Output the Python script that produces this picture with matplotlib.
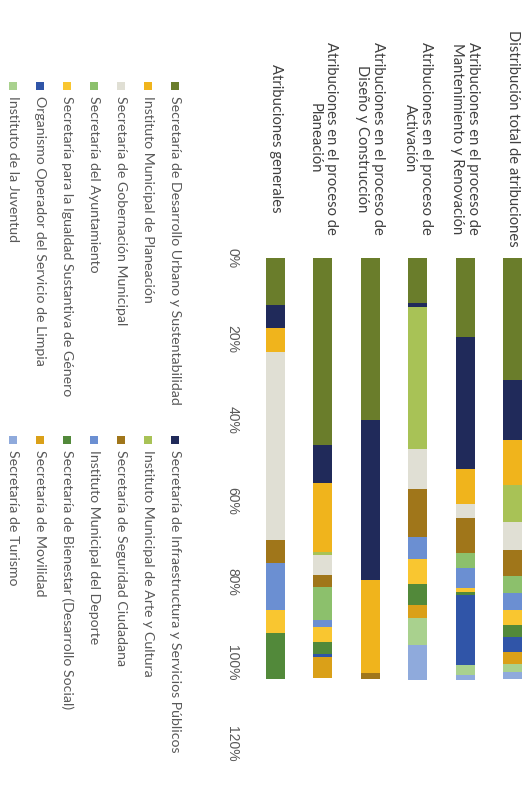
import matplotlib
matplotlib.use("Agg")
import matplotlib.pyplot as plt
from matplotlib.patches import Rectangle

# --- data (percent of attributions per office) ---
categorias = [
    "Atribuciones generales",
    "Atribuciones en el proceso de\nPlaneación",
    "Atribuciones en el proceso de\nDiseño y Construcción",
    "Atribuciones en el proceso de\nActivación",
    "Atribuciones en el proceso de\nMantenimiento y Renovación",
    "Distribución total de atribuciones",
]

series = [
    "Secretaría de Desarrollo Urbano y Sustentabilidad",
    "Secretaría de Infraestructura y Servicios Públicos",
    "Instituto Municipal de Planeación",
    "Instituto Municipal de Arte y Cultura",
    "Secretaría de Gobernación Municipal",
    "Secretaría de Seguridad Ciudadana",
    "Secretaría del Ayuntamiento",
    "Instituto Municipal del Deporte",
    "Secretaría para la Igualdad Sustantiva de Género",
    "Secretaría de Bienestar (Desarrollo Social)",
    "Organismo Operador del Servicio de Limpia",
    "Secretaría de Movilidad",
    "Instituto de la Juventud",
    "Secretaría de Turismo",
]

# one list per office, in category order (generales ... total)
desarrollo_urbano = [11.6, 46.2, 40.0, 11.1, 19.5, 30.1]
infraestructura   = [5.7, 9.4, 39.5, 1.0, 32.6, 14.8]
planeacion        = [5.9, 17.0, 23.0, 0.0, 8.6, 11.1]
arte_cultura      = [0.0, 0.7, 0.0, 35.1, 0.0, 9.1]
gobernacion       = [46.4, 4.9, 0.0, 9.9, 3.5, 6.9]
seguridad         = [5.7, 3.0, 1.5, 11.9, 8.6, 6.4]
ayuntamiento      = [0.0, 8.1, 0.0, 0.0, 3.7, 4.2]
deporte           = [11.6, 1.7, 0.0, 5.4, 4.9, 4.2]
igualdad          = [5.7, 3.7, 0.0, 6.2, 1.0, 3.7]
bienestar         = [11.4, 3.2, 0.0, 5.2, 0.7, 3.2]
limpia            = [0.0, 0.7, 0.0, 0.0, 17.3, 3.5]
movilidad         = [0.0, 5.2, 0.0, 3.0, 0.0, 3.0]
juventud          = [0.0, 0.0, 0.0, 6.7, 2.5, 2.0]
turismo           = [0.0, 0.0, 0.0, 8.6, 1.2, 1.7]

valores = [desarrollo_urbano, infraestructura, planeacion, arte_cultura,
           gobernacion, seguridad, ayuntamiento, deporte, igualdad,
           bienestar, limpia, movilidad, juventud, turismo]

colores = ["#6A7D2B", "#202A5A", "#F0B41C", "#A8C256", "#E0DFD4", "#A0761A",
           "#8CC06C", "#6B8FD2", "#F9C630", "#52893A", "#3055A8", "#DAA018",
           "#A9D18E", "#8FAADC"]

ticks = [0, 20, 40, 60, 80, 100, 120]

W, H = 532, 792
fig = plt.figure(figsize=(W / 100, H / 100), dpi=100)

# chart is drawn rotated: bars hang down from the top, text runs top->bottom
ax = fig.add_axes([251.8 / W, 1 - 744 / H, (W - 251.8) / W, (744 - 258) / H])
x = list(range(len(categorias)))
base = [0.0] * len(categorias)
for vals, col in zip(valores, colores):
    ax.bar(x, vals, bottom=base, width=0.40, color=col, linewidth=0)
    base = [b + v for b, v in zip(base, vals)]

ax.set_ylim(120, 0)
ax.set_xlim(-0.5, 5.41)
for s in ax.spines.values():
    s.set_visible(False)

ax.set_yticks(ticks)
ax.set_yticklabels([f"{t}%" for t in ticks], rotation=-90, ha="center",
                   va="center", color="#595959", fontsize=10,
                   family="Liberation Sans")
ax.tick_params(axis="y", length=0, pad=14)

ax.xaxis.tick_top()
ax.set_xticks(x)
ax.set_xticklabels(categorias, rotation=-90, ha="center", va="center",
                   multialignment="center", color="#404040", fontsize=10.6,
                   family="Lato", linespacing=1.2)
ax.tick_params(axis="x", length=0, pad=86)

# legend, two entries per row, drawn by hand so the text can be rotated
for i, (name, col) in enumerate(zip(series, colores)):
    row, c = divmod(i, 2)
    xp = 175 - 27 * row
    yp = 86 if c == 0 else 440
    fig.add_artist(Rectangle(((xp - 4) / W, 1 - (yp + 4) / H), 8 / W, 8 / H,
                             transform=fig.transFigure, color=col, lw=0))
    fig.text(xp / W, 1 - (yp + 10) / H, name, rotation=-90, ha="center",
             va="top", color="#595959", fontsize=10.2, family="Lato")

fig.savefig("out.png", dpi=100)
